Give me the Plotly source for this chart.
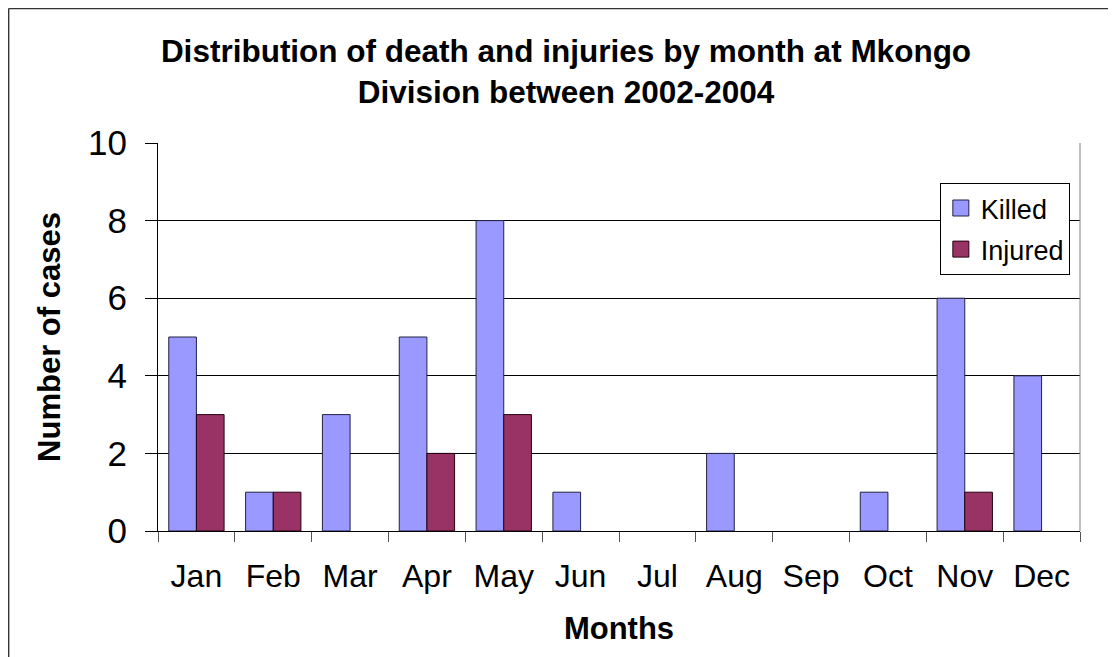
import plotly.graph_objects as go

# monthly counts
months = ['Jan', 'Feb', 'Mar', 'Apr', 'May', 'Jun', 'Jul', 'Aug', 'Sep', 'Oct', 'Nov', 'Dec']
killed = [5, 1, 3, 5, 8, 1, 0, 2, 0, 1, 6, 4]
injured = [3, 1, 0, 2, 3, 0, 0, 0, 0, 0, 1, 0]

FONT = 'Arial, Liberation Sans, sans-serif'
colors = {'Killed': ('#9999FF', '#222244'), 'Injured': ('#993366', '#220011')}

fig = go.Figure()
for name, vals in [('Killed', killed), ('Injured', injured)]:
    fill, edge = colors[name]
    # no outline on empty bars (Excel draws nothing there)
    fig.add_trace(go.Bar(x=months, y=vals, name=name, showlegend=False,
                         marker=dict(color=fill, line=dict(color=edge, width=[1 if v else 0 for v in vals]))))
    # legend-only entry so the swatch can be a bigger square
    fig.add_trace(go.Scatter(x=[None], y=[None], mode='markers', name=name, legendgroup=name,
                             marker=dict(symbol='square', size=17, color=fill, line=dict(color=edge, width=1))))

# page body adds an 8px offset, so margins are set 8px smaller on left/top
fig.update_layout(
    width=1116, height=657,
    margin=dict(l=150, r=44, t=135, b=134),
    paper_bgcolor='white', plot_bgcolor='white',
    font=dict(family=FONT, color='black'),
    barmode='group', bargap=0.28, bargroupgap=0,
    title=dict(text='<b>Distribution of death and injuries by month at Mkongo<br>Division between 2002-2004</b>',
               x=0.5, xanchor='center', xref='container',
               y=0.918, yanchor='top', yref='container',
               font=dict(size=31.5, family=FONT)),
    legend=dict(x=0.848, y=0.897, xanchor='left', yanchor='top',
                bgcolor='white', bordercolor='black', borderwidth=1, itemsizing='trace',
                font=dict(size=27, family=FONT), tracegroupgap=3),
    showlegend=True,
)

fig.update_xaxes(
    showline=True, linecolor='black', linewidth=1,
    ticks='outside', tickson='boundaries', ticklen=10, tickcolor='#555',
    tickfont=dict(size=32, family=FONT), ticklabelstandoff=17,
    title=dict(text='<b>Months</b>', font=dict(size=31, family=FONT), standoff=23),
    showgrid=False, mirror=False,
)
fig.update_yaxes(
    range=[0, 10], dtick=2,
    showline=True, linecolor='black', linewidth=1,
    ticks='outside', ticklen=12, tickcolor='black',
    tickfont=dict(size=35, family=FONT), ticklabelstandoff=11,
    showgrid=True, gridcolor='black', gridwidth=1,
    title=dict(text='<b>Number of cases</b>', font=dict(size=31, family=FONT), standoff=18),
    zeroline=False,
)

# gray right border of plot area and the outer chart frame (left and top edges)
fig.add_shape(type='line', xref='paper', yref='paper', x0=1, x1=1, y0=0, y1=1,
              line=dict(color='#808080', width=1))
fig.add_shape(type='line', xref='paper', yref='paper', x0=-0.162, x1=-0.162, y0=-0.33, y1=1.3466,
              line=dict(color='#333333', width=1.5))
fig.add_shape(type='line', xref='paper', yref='paper', x0=-0.162, x1=1.04, y0=1.3466, y1=1.3466,
              line=dict(color='#333333', width=1.5))

fig.write_html('out.html')
